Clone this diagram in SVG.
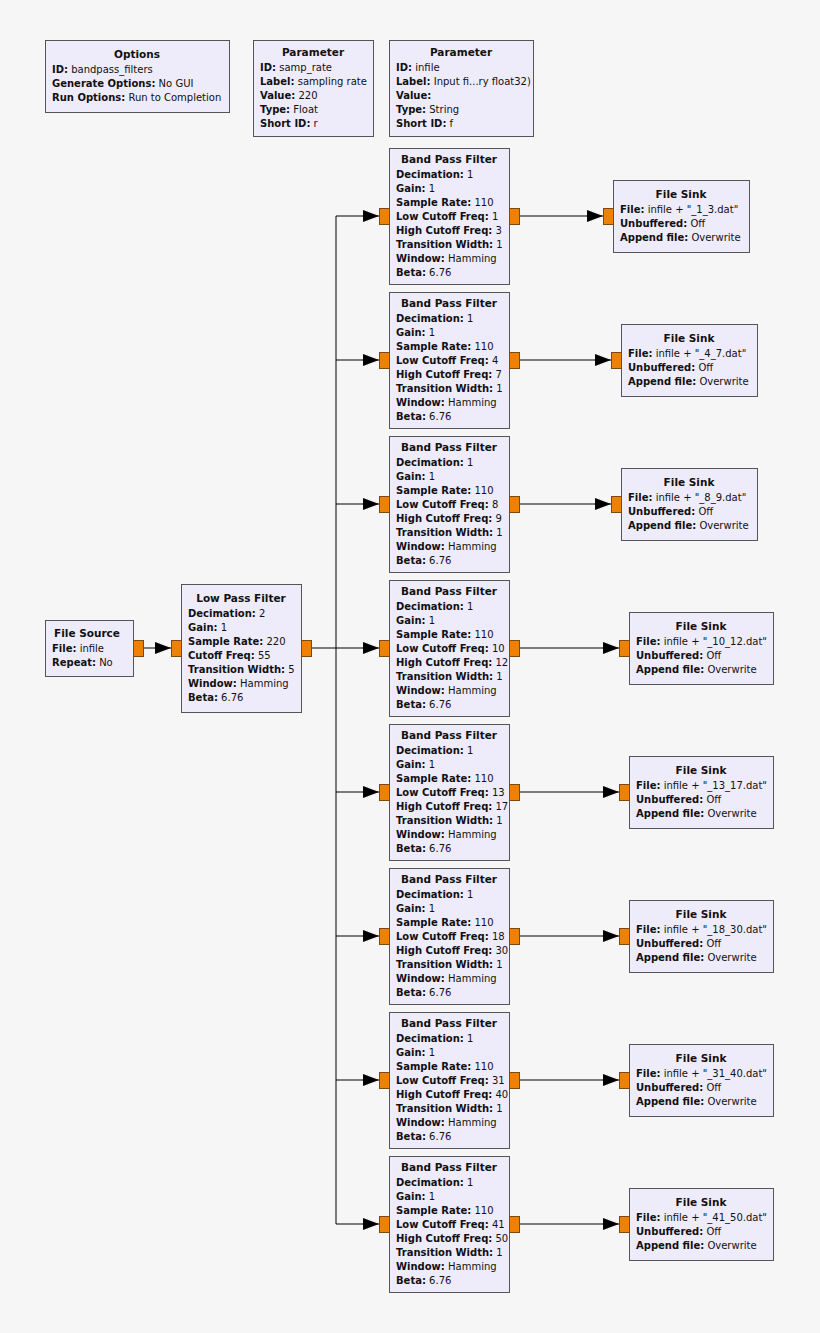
<svg xmlns="http://www.w3.org/2000/svg" width="820" height="1333" viewBox="0 0 820 1333">
<style>
.b{fill:#eeebfb;stroke:#555;stroke-width:1}
.p{fill:#f08000;stroke:#7a4a10;stroke-width:1}
text{font-family:"DejaVu Sans",sans-serif;font-size:10px;fill:#111}
.t{font-weight:bold;text-anchor:middle;font-size:10.5px}
.k{font-weight:bold}
.c{stroke:#000;stroke-width:1;fill:none}
</style>
<defs><marker id="a" viewBox="0 0 16 12" refX="16" refY="6" markerWidth="16" markerHeight="12" markerUnits="userSpaceOnUse" orient="auto"><path d="M0,0L16,6L0,12z" fill="#000"/></marker></defs>
<rect width="820" height="1333" fill="#f6f6f6"/>
<g id="connectors">
<path class="c" d="M143,648H171" marker-end="url(#a)"/>
<path class="c" d="M311,648H336M336,216V1224"/>
<path class="c" d="M336,216H379" marker-end="url(#a)"/>
<path class="c" d="M336,360H379" marker-end="url(#a)"/>
<path class="c" d="M336,504H379" marker-end="url(#a)"/>
<path class="c" d="M336,648H379" marker-end="url(#a)"/>
<path class="c" d="M336,792H379" marker-end="url(#a)"/>
<path class="c" d="M336,936H379" marker-end="url(#a)"/>
<path class="c" d="M336,1080H379" marker-end="url(#a)"/>
<path class="c" d="M336,1224H379" marker-end="url(#a)"/>
<path class="c" d="M519,216H603" marker-end="url(#a)"/>
<path class="c" d="M519,360H611" marker-end="url(#a)"/>
<path class="c" d="M519,504H611" marker-end="url(#a)"/>
<path class="c" d="M519,648H619" marker-end="url(#a)"/>
<path class="c" d="M519,792H619" marker-end="url(#a)"/>
<path class="c" d="M519,936H619" marker-end="url(#a)"/>
<path class="c" d="M519,1080H619" marker-end="url(#a)"/>
<path class="c" d="M519,1224H619" marker-end="url(#a)"/>
</g>
<g id="options"><rect class="b" x="45.5" y="40.5" width="184" height="72"/>
<text class="t" x="137" y="58">Options</text>
<text x="52" y="73"><tspan class="k">ID:</tspan> bandpass_filters</text>
<text x="52" y="87"><tspan class="k">Generate Options:</tspan> No GUI</text>
<text x="52" y="101"><tspan class="k">Run Options:</tspan> Run to Completion</text></g>
<g id="param_samp_rate"><rect class="b" x="253.5" y="40.5" width="120" height="96"/>
<text class="t" x="313" y="56">Parameter</text>
<text x="260" y="71"><tspan class="k">ID:</tspan> samp_rate</text>
<text x="260" y="85"><tspan class="k">Label:</tspan> sampling rate</text>
<text x="260" y="99"><tspan class="k">Value:</tspan> 220</text>
<text x="260" y="113"><tspan class="k">Type:</tspan> Float</text>
<text x="260" y="127"><tspan class="k">Short ID:</tspan> r</text></g>
<g id="param_infile"><rect class="b" x="389.5" y="40.5" width="144" height="96"/>
<text class="t" x="461" y="56">Parameter</text>
<text x="396" y="71"><tspan class="k">ID:</tspan> infile</text>
<text x="396" y="85"><tspan class="k">Label:</tspan> Input fi...ry float32)</text>
<text x="396" y="99"><tspan class="k">Value:</tspan></text>
<text x="396" y="113"><tspan class="k">Type:</tspan> String</text>
<text x="396" y="127"><tspan class="k">Short ID:</tspan> f</text></g>
<g id="file_source"><rect class="b" x="45.5" y="620.5" width="88" height="56"/>
<rect class="p" x="133.5" y="640.5" width="10" height="16"/>
<text class="t" x="87" y="637">File Source</text>
<text x="52" y="652"><tspan class="k">File:</tspan> infile</text>
<text x="52" y="666"><tspan class="k">Repeat:</tspan> No</text></g>
<g id="low_pass_filter"><rect class="b" x="181.5" y="584.5" width="120" height="128"/>
<rect class="p" x="171.5" y="640.5" width="10" height="16"/><rect class="p" x="301.5" y="640.5" width="10" height="16"/>
<text class="t" x="241" y="602">Low Pass Filter</text>
<text x="188" y="617"><tspan class="k">Decimation:</tspan> 2</text>
<text x="188" y="631"><tspan class="k">Gain:</tspan> 1</text>
<text x="188" y="645"><tspan class="k">Sample Rate:</tspan> 220</text>
<text x="188" y="659"><tspan class="k">Cutoff Freq:</tspan> 55</text>
<text x="188" y="673"><tspan class="k">Transition Width:</tspan> 5</text>
<text x="188" y="687"><tspan class="k">Window:</tspan> Hamming</text>
<text x="188" y="701"><tspan class="k">Beta:</tspan> 6.76</text></g>
<g id="bpf1" transform="translate(0,0)"><rect class="b" x="389.5" y="148.5" width="120" height="136"/><rect class="p" x="379.5" y="208.5" width="10" height="16"/><rect class="p" x="509.5" y="208.5" width="10" height="16"/>
<text class="t" x="449" y="163">Band Pass Filter</text><text x="396" y="178"><tspan class="k">Decimation:</tspan> 1</text><text x="396" y="192"><tspan class="k">Gain:</tspan> 1</text><text x="396" y="206"><tspan class="k">Sample Rate:</tspan> 110</text><text x="396" y="220"><tspan class="k">Low Cutoff Freq:</tspan> 1</text><text x="396" y="234"><tspan class="k">High Cutoff Freq:</tspan> 3</text><text x="396" y="248"><tspan class="k">Transition Width:</tspan> 1</text><text x="396" y="262"><tspan class="k">Window:</tspan> Hamming</text><text x="396" y="276"><tspan class="k">Beta:</tspan> 6.76</text></g>
<g id="bpf2" transform="translate(0,144)"><rect class="b" x="389.5" y="148.5" width="120" height="136"/><rect class="p" x="379.5" y="208.5" width="10" height="16"/><rect class="p" x="509.5" y="208.5" width="10" height="16"/>
<text class="t" x="449" y="163">Band Pass Filter</text><text x="396" y="178"><tspan class="k">Decimation:</tspan> 1</text><text x="396" y="192"><tspan class="k">Gain:</tspan> 1</text><text x="396" y="206"><tspan class="k">Sample Rate:</tspan> 110</text><text x="396" y="220"><tspan class="k">Low Cutoff Freq:</tspan> 4</text><text x="396" y="234"><tspan class="k">High Cutoff Freq:</tspan> 7</text><text x="396" y="248"><tspan class="k">Transition Width:</tspan> 1</text><text x="396" y="262"><tspan class="k">Window:</tspan> Hamming</text><text x="396" y="276"><tspan class="k">Beta:</tspan> 6.76</text></g>
<g id="bpf3" transform="translate(0,288)"><rect class="b" x="389.5" y="148.5" width="120" height="136"/><rect class="p" x="379.5" y="208.5" width="10" height="16"/><rect class="p" x="509.5" y="208.5" width="10" height="16"/>
<text class="t" x="449" y="163">Band Pass Filter</text><text x="396" y="178"><tspan class="k">Decimation:</tspan> 1</text><text x="396" y="192"><tspan class="k">Gain:</tspan> 1</text><text x="396" y="206"><tspan class="k">Sample Rate:</tspan> 110</text><text x="396" y="220"><tspan class="k">Low Cutoff Freq:</tspan> 8</text><text x="396" y="234"><tspan class="k">High Cutoff Freq:</tspan> 9</text><text x="396" y="248"><tspan class="k">Transition Width:</tspan> 1</text><text x="396" y="262"><tspan class="k">Window:</tspan> Hamming</text><text x="396" y="276"><tspan class="k">Beta:</tspan> 6.76</text></g>
<g id="bpf4" transform="translate(0,432)"><rect class="b" x="389.5" y="148.5" width="120" height="136"/><rect class="p" x="379.5" y="208.5" width="10" height="16"/><rect class="p" x="509.5" y="208.5" width="10" height="16"/>
<text class="t" x="449" y="163">Band Pass Filter</text><text x="396" y="178"><tspan class="k">Decimation:</tspan> 1</text><text x="396" y="192"><tspan class="k">Gain:</tspan> 1</text><text x="396" y="206"><tspan class="k">Sample Rate:</tspan> 110</text><text x="396" y="220"><tspan class="k">Low Cutoff Freq:</tspan> 10</text><text x="396" y="234"><tspan class="k">High Cutoff Freq:</tspan> 12</text><text x="396" y="248"><tspan class="k">Transition Width:</tspan> 1</text><text x="396" y="262"><tspan class="k">Window:</tspan> Hamming</text><text x="396" y="276"><tspan class="k">Beta:</tspan> 6.76</text></g>
<g id="bpf5" transform="translate(0,576)"><rect class="b" x="389.5" y="148.5" width="120" height="136"/><rect class="p" x="379.5" y="208.5" width="10" height="16"/><rect class="p" x="509.5" y="208.5" width="10" height="16"/>
<text class="t" x="449" y="163">Band Pass Filter</text><text x="396" y="178"><tspan class="k">Decimation:</tspan> 1</text><text x="396" y="192"><tspan class="k">Gain:</tspan> 1</text><text x="396" y="206"><tspan class="k">Sample Rate:</tspan> 110</text><text x="396" y="220"><tspan class="k">Low Cutoff Freq:</tspan> 13</text><text x="396" y="234"><tspan class="k">High Cutoff Freq:</tspan> 17</text><text x="396" y="248"><tspan class="k">Transition Width:</tspan> 1</text><text x="396" y="262"><tspan class="k">Window:</tspan> Hamming</text><text x="396" y="276"><tspan class="k">Beta:</tspan> 6.76</text></g>
<g id="bpf6" transform="translate(0,720)"><rect class="b" x="389.5" y="148.5" width="120" height="136"/><rect class="p" x="379.5" y="208.5" width="10" height="16"/><rect class="p" x="509.5" y="208.5" width="10" height="16"/>
<text class="t" x="449" y="163">Band Pass Filter</text><text x="396" y="178"><tspan class="k">Decimation:</tspan> 1</text><text x="396" y="192"><tspan class="k">Gain:</tspan> 1</text><text x="396" y="206"><tspan class="k">Sample Rate:</tspan> 110</text><text x="396" y="220"><tspan class="k">Low Cutoff Freq:</tspan> 18</text><text x="396" y="234"><tspan class="k">High Cutoff Freq:</tspan> 30</text><text x="396" y="248"><tspan class="k">Transition Width:</tspan> 1</text><text x="396" y="262"><tspan class="k">Window:</tspan> Hamming</text><text x="396" y="276"><tspan class="k">Beta:</tspan> 6.76</text></g>
<g id="bpf7" transform="translate(0,864)"><rect class="b" x="389.5" y="148.5" width="120" height="136"/><rect class="p" x="379.5" y="208.5" width="10" height="16"/><rect class="p" x="509.5" y="208.5" width="10" height="16"/>
<text class="t" x="449" y="163">Band Pass Filter</text><text x="396" y="178"><tspan class="k">Decimation:</tspan> 1</text><text x="396" y="192"><tspan class="k">Gain:</tspan> 1</text><text x="396" y="206"><tspan class="k">Sample Rate:</tspan> 110</text><text x="396" y="220"><tspan class="k">Low Cutoff Freq:</tspan> 31</text><text x="396" y="234"><tspan class="k">High Cutoff Freq:</tspan> 40</text><text x="396" y="248"><tspan class="k">Transition Width:</tspan> 1</text><text x="396" y="262"><tspan class="k">Window:</tspan> Hamming</text><text x="396" y="276"><tspan class="k">Beta:</tspan> 6.76</text></g>
<g id="bpf8" transform="translate(0,1008)"><rect class="b" x="389.5" y="148.5" width="120" height="136"/><rect class="p" x="379.5" y="208.5" width="10" height="16"/><rect class="p" x="509.5" y="208.5" width="10" height="16"/>
<text class="t" x="449" y="163">Band Pass Filter</text><text x="396" y="178"><tspan class="k">Decimation:</tspan> 1</text><text x="396" y="192"><tspan class="k">Gain:</tspan> 1</text><text x="396" y="206"><tspan class="k">Sample Rate:</tspan> 110</text><text x="396" y="220"><tspan class="k">Low Cutoff Freq:</tspan> 41</text><text x="396" y="234"><tspan class="k">High Cutoff Freq:</tspan> 50</text><text x="396" y="248"><tspan class="k">Transition Width:</tspan> 1</text><text x="396" y="262"><tspan class="k">Window:</tspan> Hamming</text><text x="396" y="276"><tspan class="k">Beta:</tspan> 6.76</text></g>
<g id="sink1" transform="translate(613,180)"><rect class="b" x="0.5" y="0.5" width="136" height="72"/><rect class="p" x="-9.5" y="28.5" width="10" height="16"/>
<text class="t" x="68" y="18">File Sink</text><text x="7" y="33"><tspan class="k">File:</tspan> infile + "_1_3.dat"</text><text x="7" y="47"><tspan class="k">Unbuffered:</tspan> Off</text><text x="7" y="61"><tspan class="k">Append file:</tspan> Overwrite</text></g>
<g id="sink2" transform="translate(621,324)"><rect class="b" x="0.5" y="0.5" width="136" height="72"/><rect class="p" x="-9.5" y="28.5" width="10" height="16"/>
<text class="t" x="68" y="18">File Sink</text><text x="7" y="33"><tspan class="k">File:</tspan> infile + "_4_7.dat"</text><text x="7" y="47"><tspan class="k">Unbuffered:</tspan> Off</text><text x="7" y="61"><tspan class="k">Append file:</tspan> Overwrite</text></g>
<g id="sink3" transform="translate(621,468)"><rect class="b" x="0.5" y="0.5" width="136" height="72"/><rect class="p" x="-9.5" y="28.5" width="10" height="16"/>
<text class="t" x="68" y="18">File Sink</text><text x="7" y="33"><tspan class="k">File:</tspan> infile + "_8_9.dat"</text><text x="7" y="47"><tspan class="k">Unbuffered:</tspan> Off</text><text x="7" y="61"><tspan class="k">Append file:</tspan> Overwrite</text></g>
<g id="sink4" transform="translate(629,612)"><rect class="b" x="0.5" y="0.5" width="144" height="72"/><rect class="p" x="-9.5" y="28.5" width="10" height="16"/>
<text class="t" x="72" y="18">File Sink</text><text x="7" y="33"><tspan class="k">File:</tspan> infile + "_10_12.dat"</text><text x="7" y="47"><tspan class="k">Unbuffered:</tspan> Off</text><text x="7" y="61"><tspan class="k">Append file:</tspan> Overwrite</text></g>
<g id="sink5" transform="translate(629,756)"><rect class="b" x="0.5" y="0.5" width="144" height="72"/><rect class="p" x="-9.5" y="28.5" width="10" height="16"/>
<text class="t" x="72" y="18">File Sink</text><text x="7" y="33"><tspan class="k">File:</tspan> infile + "_13_17.dat"</text><text x="7" y="47"><tspan class="k">Unbuffered:</tspan> Off</text><text x="7" y="61"><tspan class="k">Append file:</tspan> Overwrite</text></g>
<g id="sink6" transform="translate(629,900)"><rect class="b" x="0.5" y="0.5" width="144" height="72"/><rect class="p" x="-9.5" y="28.5" width="10" height="16"/>
<text class="t" x="72" y="18">File Sink</text><text x="7" y="33"><tspan class="k">File:</tspan> infile + "_18_30.dat"</text><text x="7" y="47"><tspan class="k">Unbuffered:</tspan> Off</text><text x="7" y="61"><tspan class="k">Append file:</tspan> Overwrite</text></g>
<g id="sink7" transform="translate(629,1044)"><rect class="b" x="0.5" y="0.5" width="144" height="72"/><rect class="p" x="-9.5" y="28.5" width="10" height="16"/>
<text class="t" x="72" y="18">File Sink</text><text x="7" y="33"><tspan class="k">File:</tspan> infile + "_31_40.dat"</text><text x="7" y="47"><tspan class="k">Unbuffered:</tspan> Off</text><text x="7" y="61"><tspan class="k">Append file:</tspan> Overwrite</text></g>
<g id="sink8" transform="translate(629,1188)"><rect class="b" x="0.5" y="0.5" width="144" height="72"/><rect class="p" x="-9.5" y="28.5" width="10" height="16"/>
<text class="t" x="72" y="18">File Sink</text><text x="7" y="33"><tspan class="k">File:</tspan> infile + "_41_50.dat"</text><text x="7" y="47"><tspan class="k">Unbuffered:</tspan> Off</text><text x="7" y="61"><tspan class="k">Append file:</tspan> Overwrite</text></g>
</svg>
